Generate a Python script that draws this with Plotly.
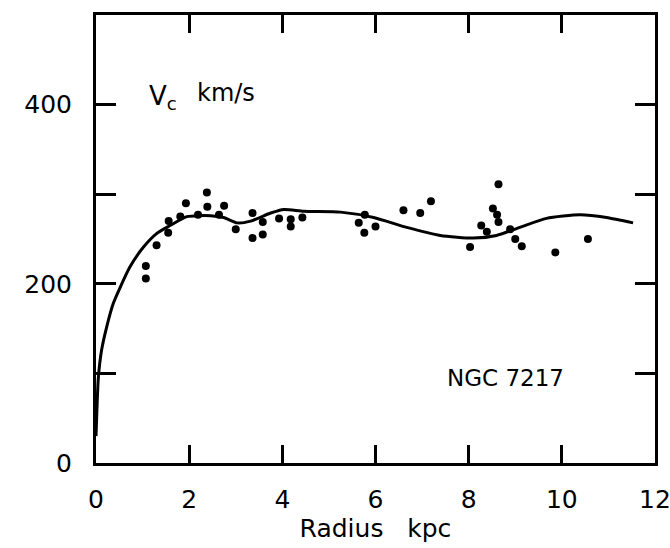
import plotly.graph_objects as go

# Observed rotation velocities (kpc, km/s)
obs_r = [1.07, 1.07, 1.30, 1.55, 1.56, 1.81, 1.93, 2.19, 2.38, 2.39, 2.64, 2.75,
         3.00, 3.36, 3.36, 3.58, 3.58, 3.93, 4.18, 4.18, 4.43,
         5.64, 5.76, 5.77, 6.00, 6.60, 6.96, 7.19, 8.03, 8.27, 8.39, 8.52, 8.61,
         8.64, 8.64, 8.89, 9.00, 9.14, 9.86, 10.56]
obs_v = [220, 206, 243, 257, 270, 275, 290, 277, 302, 286, 277, 287,
         261, 279, 251, 269, 255, 273, 272, 264, 274,
         268, 257, 277, 264, 282, 279, 292, 241, 265, 258, 284, 277,
         311, 269, 261, 250, 242, 235, 250]

# Model rotation curve
curve_r = [0.0, 0.02, 0.05, 0.12, 0.23, 0.37, 0.51, 0.73, 1.02, 1.30, 1.59, 1.95,
           2.46, 2.74, 3.03, 3.32, 3.75, 4.03, 4.46, 5.25, 5.96, 6.67, 7.39, 8.1,
           8.6, 9.1, 9.67, 10.39, 10.96, 11.53]
curve_v = [30, 60, 95, 126, 152, 178, 195, 219, 241, 256, 265, 275,
           276, 274, 268, 270, 279, 283, 281, 280, 274, 263, 254, 251,
           254, 263, 273, 277, 274, 268]

x_ticks = [0, 2, 4, 6, 8, 10, 12]
y_labeled_ticks = [0, 200, 400]
y_minor_ticks = [100, 300]

font = "DejaVu Sans"

fig = go.Figure()
fig.add_trace(go.Scatter(x=curve_r, y=curve_v, mode="lines",
                         line=dict(color="black", width=3, shape="spline", smoothing=0.6),
                         hoverinfo="skip", showlegend=False))
fig.add_trace(go.Scatter(x=obs_r, y=obs_v, mode="markers",
                         marker=dict(color="black", size=8),
                         showlegend=False))

fig.add_annotation(x=1.09, y=408, xref="x", yref="y", xanchor="left", yanchor="middle",
                   text="V<sub>c</sub>", showarrow=False,
                   font=dict(family=font, size=26, color="black"))
fig.add_annotation(x=2.12, y=413, xref="x", yref="y", xanchor="left", yanchor="middle",
                   text="km/s", showarrow=False,
                   font=dict(family=font, size=24, color="black"))
fig.add_annotation(x=7.5, y=95, xref="x", yref="y", xanchor="left", yanchor="middle",
                   text="NGC 7217", showarrow=False,
                   font=dict(family=font, size=23, color="black"))

fig.update_layout(
    width=670, height=548,
    margin=dict(l=96, r=15, t=15, b=85),
    paper_bgcolor="white", plot_bgcolor="white",
    font=dict(family=font, size=25, color="black"),
    xaxis=dict(range=[0, 12], tickvals=x_ticks, ticktext=[str(v) for v in x_ticks],
               ticks="inside", ticklen=18, tickwidth=3, tickcolor="black",
               showline=True, linewidth=3, linecolor="black", mirror="allticks",
               showgrid=False, zeroline=False, ticklabelstandoff=12,
               ticklabeloverflow="allow", automargin=False,
               title=dict(text="Radius   kpc", standoff=4,
                          font=dict(family=font, size=25))),
    yaxis=dict(range=[0, 500], tickvals=y_labeled_ticks,
               ticktext=[str(v) for v in y_labeled_ticks],
               ticks="inside", ticklen=20, tickwidth=3, tickcolor="black",
               minor=dict(tickvals=y_minor_ticks, ticks="inside", ticklen=20,
                          tickwidth=3, tickcolor="black", showgrid=False),
               showline=True, linewidth=3, linecolor="black", mirror="allticks",
               showgrid=False, zeroline=False, ticklabelstandoff=16,
               ticklabeloverflow="allow", automargin=False),
)

fig.write_html("out.html")
